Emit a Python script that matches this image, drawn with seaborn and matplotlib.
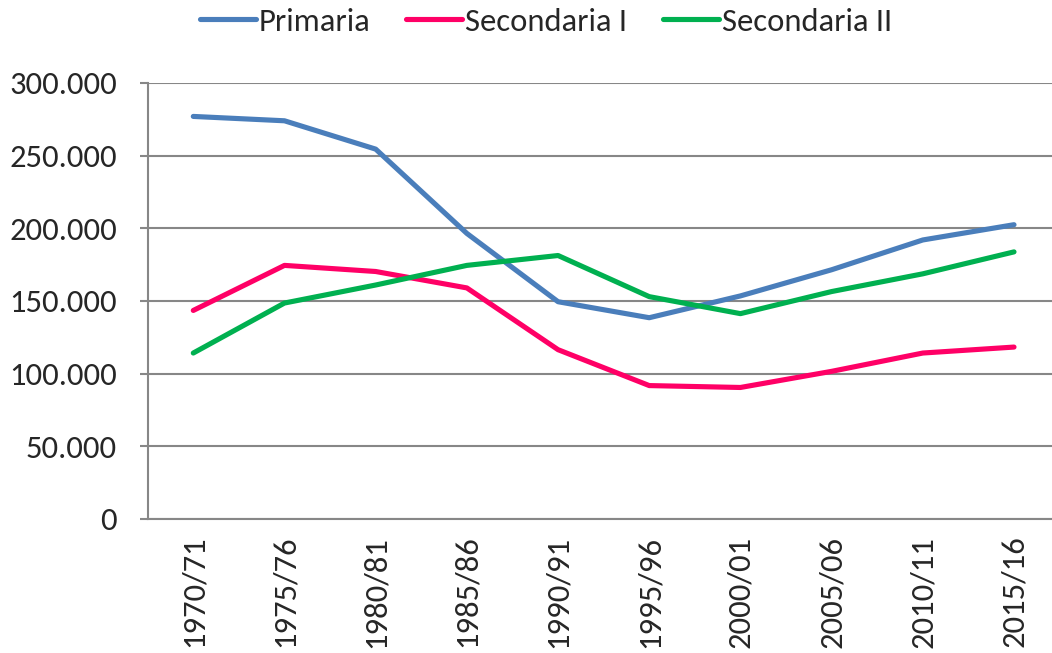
import numpy as np
import pandas as pd
import seaborn as sns
import matplotlib.pyplot as plt
from matplotlib.ticker import FuncFormatter, FixedLocator

# anni scolastici
anni = ['1970/71', '1975/76', '1980/81', '1985/86', '1990/91',
        '1995/96', '2000/01', '2005/06', '2010/11', '2015/16']

# valori
primaria = [277000, 274000, 254500, 196500, 149500, 138500, 153500, 171500, 192000, 202500]
secondaria_1 = [143500, 174500, 170300, 159000, 116500, 91800, 90500, 101600, 114200, 118300]
secondaria_2 = [114200, 148600, 161000, 174500, 181300, 153000, 141300, 156500, 168700, 183800]

serie = ['Primaria', 'Secondaria I', 'Secondaria II']
colori = ['#4a7ebb', '#ff0066', '#00b050']

df = pd.DataFrame({'anno': anni * 3,
                   'valore': primaria + secondaria_1 + secondaria_2,
                   'serie': np.repeat(serie, len(anni))})

sns.set_style('white')
plt.rcParams['font.family'] = ['Carlito', 'Liberation Sans', 'DejaVu Sans']

fig = plt.figure(figsize=(10.52, 6.53), dpi=100)
ax = fig.add_axes([147.7 / 1052, 134 / 653, (1059.6 - 147.7) / 1052, 436 / 653])

sns.lineplot(data=df, x='anno', y='valore', hue='serie', palette=colori,
             linewidth=3.7, ax=ax, legend=False)

ax.set_xlim(-0.5, len(anni) - 0.5)
ax.set_ylim(0, 300000)
ax.set_yticks(range(0, 300001, 50000))
ax.yaxis.set_major_formatter(FuncFormatter(lambda v, p: f'{int(v):,}'.replace(',', '.')))
ax.yaxis.grid(True, color='#878787', linewidth=1.5)
ax.set_axisbelow(True)

# etichette al centro, tacche tra le categorie
ax.set_xticks(range(len(anni)))
ax.set_xticklabels(anni, rotation=90)
ax.xaxis.set_minor_locator(FixedLocator(np.arange(-0.5, len(anni), 1)))
ax.tick_params(axis='x', which='major', length=0, pad=12, labelsize=23.5)
ax.tick_params(axis='x', which='minor', length=8, width=1.5, color='#878787', direction='out')
ax.tick_params(axis='y', length=6, width=1.5, color='#878787', pad=16, labelsize=23.5,
               direction='out', left=True)

for s in ['top', 'right']:
    ax.spines[s].set_visible(False)
for s in ['left', 'bottom']:
    ax.spines[s].set_color('#878787')
    ax.spines[s].set_linewidth(1.5)

ax.set_xlabel('')
ax.set_ylabel('')

handles = [plt.Line2D([], [], color=c, linewidth=3.7) for c in colori]
fig.legend(handles, serie, loc='upper center', bbox_to_anchor=(546 / 1052, 1.008),
           ncol=3, frameon=False, fontsize=23.5, handlelength=1.7, handletextpad=0.1,
           columnspacing=1.1, borderaxespad=0.0)

fig.savefig('out.png', dpi=100)
